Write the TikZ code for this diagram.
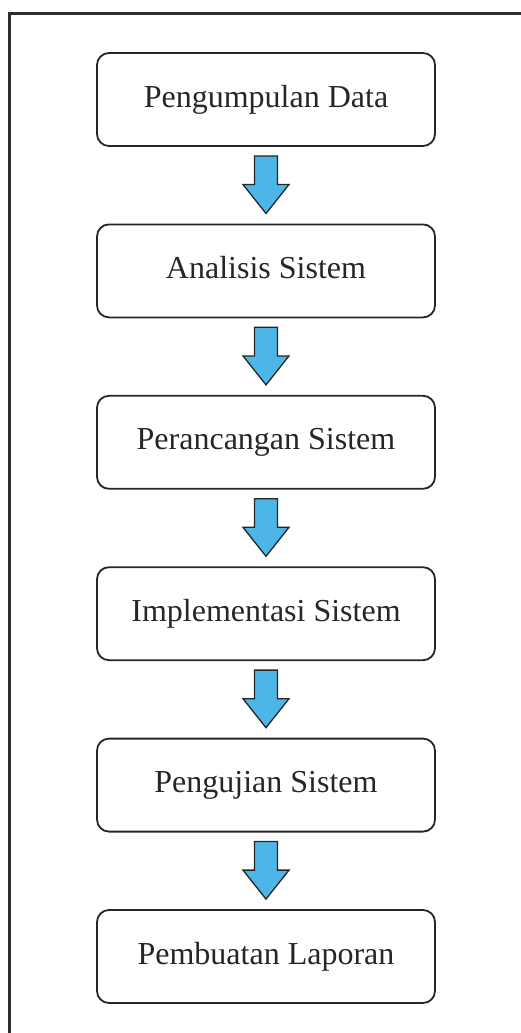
\documentclass[tikz,border=0pt]{standalone}
\usepackage{fontspec}
\setmainfont{Liberation Serif}
\usetikzlibrary{calc}
\definecolor{flowblue}{RGB}{77,182,230}
\definecolor{framegray}{RGB}{45,45,45}
\tikzset{
  stepbox/.style={draw=black!85, line width=1.8pt, rounded corners=12pt,
    minimum width=338pt, minimum height=93pt, inner sep=0pt,
    text height=22pt, text depth=7pt,
    font=\fontsize{32}{38}\selectfont, text=black!85},
  flowarrow/.style={draw=black!85, line width=1.3pt, fill=flowblue, line join=miter}
}
\newcommand{\blockarrow}[2]{%
  \path[flowarrow] let \p1=(#1.south), \p2=(#2.north) in
    (\x1-11.5pt,\y1-9pt) -- (\x1+11.5pt,\y1-9pt) -- (\x1+11.5pt,\y2+39pt)
    -- (\x1+23pt,\y2+39pt) -- (\x1,\y2+10pt) -- (\x1-23pt,\y2+39pt)
    -- (\x1-11.5pt,\y2+39pt) -- cycle;}
\begin{document}
\begin{tikzpicture}[x=1pt,y=-1pt]
\useasboundingbox (0,0) rectangle (521,1033);
\clip (0,0) rectangle (521,1033);
\draw[framegray, line width=3pt] (9,1045) -- (9,14) -- (535,14);
\node[stepbox] (s1) at (266,99.5) {Pengumpulan Data};
\node[stepbox] (s2) at (266,270.9) {Analisis Sistem};
\node[stepbox] (s3) at (266,442.3) {Perancangan Sistem};
\node[stepbox] (s4) at (266,613.7) {Implementasi Sistem};
\node[stepbox] (s5) at (266,785.1) {Pengujian Sistem};
\node[stepbox] (s6) at (266,956.5) {Pembuatan Laporan};
\blockarrow{s1}{s2}
\blockarrow{s2}{s3}
\blockarrow{s3}{s4}
\blockarrow{s4}{s5}
\blockarrow{s5}{s6}
\end{tikzpicture}
\end{document}
